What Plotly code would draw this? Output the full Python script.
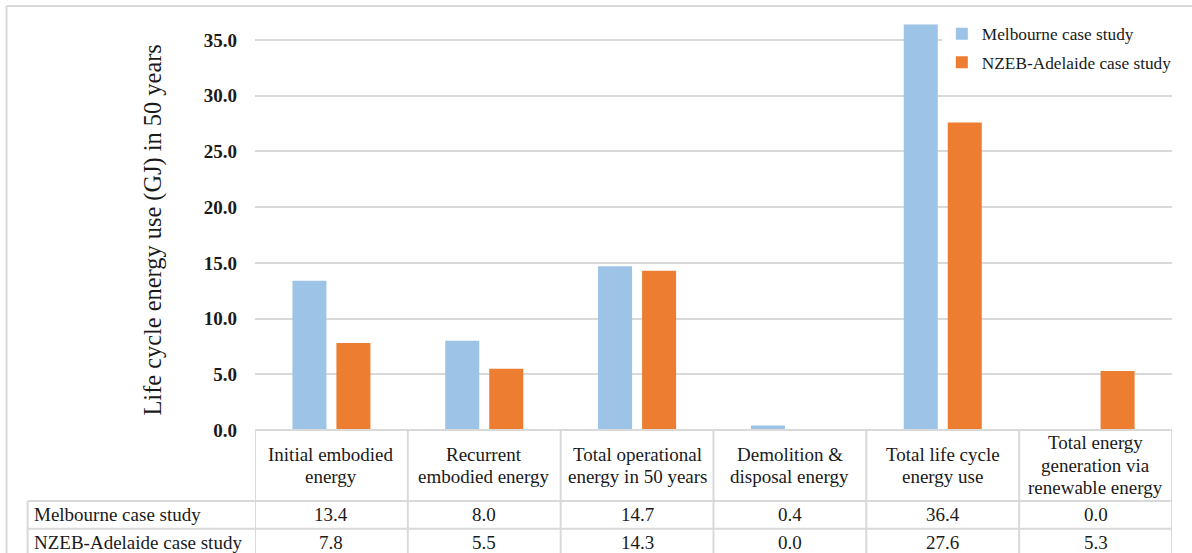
import plotly.graph_objects as go

# Life cycle energy use per stage for the two case studies (GJ over 50 years)
categories = [
    "Initial embodied<br>energy",
    "Recurrent<br>embodied energy",
    "Total operational<br>energy in 50 years",
    "Demolition &<br>disposal energy",
    "Total life cycle<br>energy use",
    "Total energy<br>generation via<br>renewable energy",
]
series_names = ["Melbourne case study", "NZEB-Adelaide case study"]
melbourne = [13.4, 8.0, 14.7, 0.4, 36.4, 0.0]
nzeb_adelaide = [7.8, 5.5, 14.3, 0.0, 27.6, 5.3]
y_ticks = [0, 5, 10, 15, 20, 25, 30, 35]

colors = ["#9DC3E6", "#ED7D31"]
FONT = "Liberation Serif, Times New Roman, serif"
GRID = "#D9D9D9"
TEXT = "#1a1a1a"
PLOT_H = 410  # plot area height in px, used to convert line spacing to paper units

x_idx = list(range(len(categories)))
values = [melbourne, nzeb_adelaide]

fig = go.Figure()
for name, vals, col in zip(series_names, values, colors):
    fig.add_trace(go.Bar(x=x_idx, y=vals, name=name, legendgroup=name,
                         marker=dict(color=col, line=dict(width=0))))

# Data table under the plot: row boundaries in paper coordinates
y_top = 0.0
y_head_bot = -0.173
y_row_mid = -0.241
y_bottom = -0.31
x_label_left = -0.248   # left edge of the row-label column (paper)

shapes = []
line = dict(color=GRID, width=2)
# horizontal lines
shapes.append(dict(type="line", xref="paper", yref="paper", x0=0, x1=1, y0=y_top, y1=y_top, line=line))
for yy in (y_head_bot, y_row_mid, y_bottom):
    shapes.append(dict(type="line", xref="paper", yref="paper", x0=x_label_left, x1=1, y0=yy, y1=yy, line=line))
# vertical column lines
for i in range(len(categories) + 1):
    shapes.append(dict(type="line", xref="x", yref="paper", x0=i - 0.5, x1=i - 0.5,
                       y0=y_bottom, y1=y_top, line=line))
shapes.append(dict(type="line", xref="paper", yref="paper", x0=x_label_left, x1=x_label_left,
                   y0=y_bottom, y1=y_head_bot, line=line))
# outer chart border (top and left)
shapes.append(dict(type="line", xref="paper", yref="paper", x0=-0.271, x1=1.03, y0=1.034, y1=1.034, line=line))
shapes.append(dict(type="line", xref="paper", yref="paper", x0=-0.271, x1=-0.271, y0=1.034, y1=-0.4, line=line))

annotations = []
cell_font = dict(family=FONT, size=19, color=TEXT)
line_step = 22.5 / PLOT_H
head_mid = (y_top + y_head_bot) / 2
for i, cat in enumerate(categories):
    parts = cat.split("<br>")
    n = len(parts)
    for k, part in enumerate(parts):
        annotations.append(dict(x=i, y=head_mid + ((n - 1) / 2 - k) * line_step, xref="x", yref="paper",
                                text=part, showarrow=False, font=cell_font,
                                xanchor="center", yanchor="middle", align="center"))
row_centers = [(y_head_bot + y_row_mid) / 2, (y_row_mid + y_bottom) / 2]
for name, vals, yc in zip(series_names, values, row_centers):
    annotations.append(dict(x=x_label_left + 0.005, y=yc, xref="paper", yref="paper", text=name,
                            showarrow=False, font=cell_font, xanchor="left", yanchor="middle"))
    for i, v in enumerate(vals):
        annotations.append(dict(x=i, y=yc, xref="x", yref="paper", text=f"{v:.1f}",
                                showarrow=False, font=cell_font, xanchor="center", yanchor="middle"))
# y axis title
annotations.append(dict(x=-0.111, y=0.487, xref="paper", yref="paper",
                        text="Life cycle energy use (GJ) in 50 years", textangle=-90,
                        showarrow=False, font=dict(family=FONT, size=24.4, color=TEXT),
                        xanchor="center", yanchor="middle"))

fig.update_layout(
    width=1192, height=553,
    margin=dict(l=255, r=20, t=20, b=123),
    paper_bgcolor="white", plot_bgcolor="white",
    barmode="group", bargap=0.424, bargroupgap=0.227,
    showlegend=True,
    legend=dict(x=0.749, y=1.01, xanchor="left", yanchor="top",
                font=dict(family=FONT, size=17.3, color=TEXT),
                bgcolor="white", tracegroupgap=3, traceorder="grouped",
                itemwidth=30),
    shapes=shapes, annotations=annotations,
)
fig.update_xaxes(range=[-0.5, len(categories) - 0.5], showticklabels=False, showgrid=False,
                 zeroline=False, showline=False, fixedrange=True)
fig.update_yaxes(range=[0, 36.8], tickvals=y_ticks, ticktext=[f"{t:.1f}" for t in y_ticks],
                 tickfont=dict(family=FONT, size=19, color=TEXT, weight="bold"),
                 showgrid=True, gridcolor=GRID, gridwidth=2, zeroline=False, showline=False,
                 ticklabelstandoff=17)

fig.write_html("out.html")
